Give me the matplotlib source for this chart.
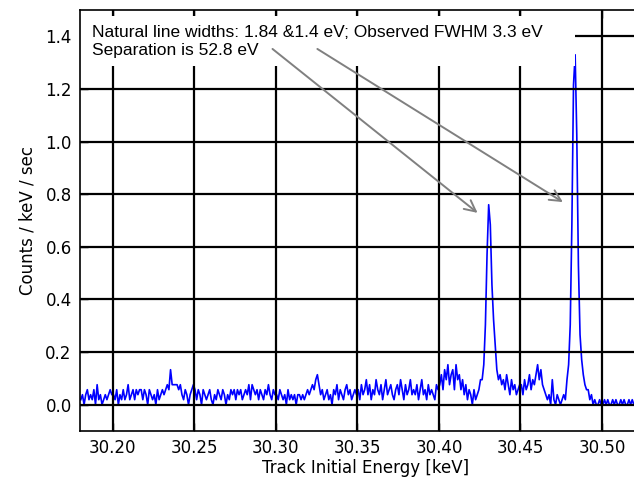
import matplotlib
matplotlib.use("Agg")
import matplotlib.pyplot as plt
from matplotlib.patches import Rectangle
import numpy as np

# histogram of track initial energies, 1 eV bins starting at 30.180 keV
bin_lo = 30.18
bin_width = 0.001
rate_per_count = 0.019  # counts / keV / sec for one count in a bin

span_3018 = [1, 2, 0, 2, 3, 1, 2, 1, 3, 0, 4, 1, 2, 0, 1, 2, 1, 2, 3, 2]
span_3020 = [2, 1, 3, 0, 2, 1, 3, 1,
             2, 4, 1,
             2, 3, 1, 3, 2, 3, 3, 1, 3, 2, 0, 3, 2, 1,
             2, 0, 3, 1, 2, 3,
             2, 3, 4, 3, 7, 4, 4, 4, 4, 3, 4,
             2, 1, 3, 2, 0, 2, 3, 4]
span_3025 = [3, 1, 3, 2, 0, 3, 2, 1, 2, 3, 1, 0, 2, 1, 3, 2, 1, 3, 2, 0, 2, 1,
             3, 2, 3, 1, 3, 2, 3, 1, 2, 3, 2, 4, 1, 4, 3, 2, 3, 1, 3, 2, 1, 3, 2, 4,
             2, 1, 3, 2]
span_3030 = [2, 1, 3, 2, 1, 2, 0, 3, 1, 2, 1, 2, 0, 2,
             2, 1, 2, 1, 2, 3,
             2, 3, 4, 3, 5, 6, 4, 2, 3, 1,
             2, 3, 1, 2, 0, 3, 2, 4, 1, 3, 2, 1, 3, 4, 2, 3, 1, 2, 3, 2]
span_3035 = [3, 1, 4, 2, 3, 5, 2, 4, 1, 3, 2, 5, 3, 2, 4, 1, 3, 5, 2, 3, 4, 2, 1, 3,
             4, 2, 5, 3, 1, 4, 2, 3, 5, 2,
             3, 2, 4, 1, 3, 5, 2, 3, 1, 4, 2, 3, 2, 1, 4, 3]
span_3040 = [4, 6, 3, 7, 5, 8, 4, 6, 7, 3, 8, 5, 6,
             3, 5, 2, 4, 1, 3, 2, 0, 3, 1, 2, 3, 5,
             5, 8, 16, 30, 40, 36, 24, 17, 12, 7, 5,
             6, 4, 5, 3, 6, 4, 2, 5, 3, 4, 2, 3, 4]
span_3045 = [4, 2, 5, 3, 4, 6, 3, 5, 4, 6, 8, 5, 7, 4, 3, 2,
             1, 2, 0, 5, 1, 0, 2, 1, 0, 1, 2, 1,
             5, 8, 16, 36, 64, 70, 54, 28, 14, 9, 6, 4, 3,
             3, 1, 2, 0, 1, 0, 0, 1, 0]
span_3050 = [0, 1, 0, 1, 0, 0, 1, 0, 1, 0, 0, 1, 0, 1, 0,
             0, 1, 0, 1, 0, 0, 1, 0, 0, 1, 0, 0, 1, 0, 0]

counts = np.array(span_3018 + span_3020 + span_3025 + span_3030 +
                  span_3035 + span_3040 + span_3045 + span_3050)
energy = bin_lo + bin_width * (np.arange(len(counts)) + 0.5)
rate = counts * rate_per_count

line1 = "Natural line widths: 1.84 &1.4 eV; Observed FWHM 3.3 eV"
line2 = "Separation is 52.8 eV"
arrow_tails = [(30.298, 1.352), (30.3255, 1.352)]
arrow_heads = [(30.4237, 0.729), (30.476, 0.770)]

fig = plt.figure(figsize=(6.34, 4.78), dpi=100)
ax = fig.add_axes([80 / 634, 47 / 478, 571 / 634, 421 / 478])

ax.plot(energy, rate, color='#0000ff', lw=1.2, zorder=2)

ax.set_xlim(30.18, 30.53)
ax.set_ylim(-0.1, 1.5)
ax.set_xticks([30.20, 30.25, 30.30, 30.35, 30.40, 30.45, 30.50])
ax.set_yticks([0.0, 0.2, 0.4, 0.6, 0.8, 1.0, 1.2, 1.4])
ax.xaxis.set_major_formatter(matplotlib.ticker.FormatStrFormatter('%.2f'))
ax.yaxis.set_major_formatter(matplotlib.ticker.FormatStrFormatter('%.1f'))
ax.tick_params(direction='in', length=6, width=1, top=True, right=True,
               labelsize=12, pad=6)
ax.set_axisbelow(False)
ax.grid(True, color='black', lw=1.6)
for s in ax.spines.values():
    s.set_linewidth(1.2)
    s.set_zorder(5)

ax.set_xlabel("Track Initial Energy [keV]", fontsize=12, labelpad=1)
ax.set_ylabel("Counts / keV / sec", fontsize=12, labelpad=6)

ax.add_patch(Rectangle((0.0, 0.867), 0.867, 0.118, transform=ax.transAxes,
                       facecolor='white', edgecolor='none', zorder=2.8))
ax.text(0.021, 0.9366, line1, transform=ax.transAxes, fontsize=12.5,
        family='Liberation Sans', va='baseline', zorder=3)
ax.text(0.021, 0.894, line2, transform=ax.transAxes, fontsize=12.5,
        family='Liberation Sans', va='baseline', zorder=3)

for tail, head in zip(arrow_tails, arrow_heads):
    ax.annotate('', xy=head, xytext=tail,
                arrowprops=dict(arrowstyle='->', color='#808080', lw=1.4,
                                mutation_scale=20, shrinkA=0, shrinkB=0),
                zorder=4)

fig.savefig('out.png', dpi=100)
